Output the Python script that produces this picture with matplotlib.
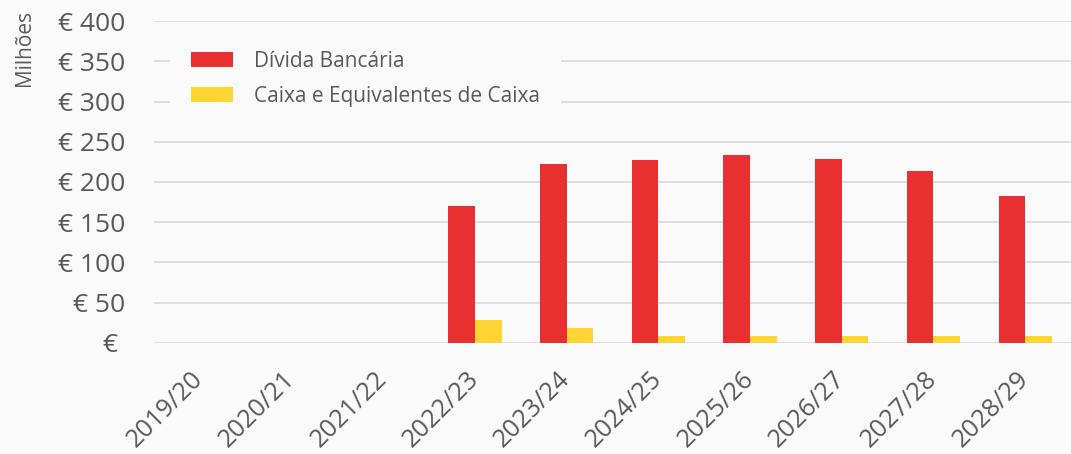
import matplotlib
matplotlib.use("Agg")
import matplotlib.pyplot as plt
import matplotlib.transforms as mtransforms
import numpy as np

categories = ["2019/20", "2020/21", "2021/22", "2022/23", "2023/24",
              "2024/25", "2025/26", "2026/27", "2027/28", "2028/29"]
divida = [0, 0, 0, 170, 222, 227, 234, 229, 214, 182]
caixa = [0, 0, 0, 28, 18, 8, 8, 8, 8, 8]
yticks = [0, 50, 100, 150, 200, 250, 300, 350, 400]
ytick_labels = ["€ ", "€ 50", "€ 100", "€ 150", "€ 200", "€ 250", "€ 300", "€ 350", "€ 400"]

BG = "#fafafa"
RED = "#e83030"
YEL = "#ffd433"
GRID = "#d9d9d9"
TXT = "#595959"

plt.rcParams['font.family'] = ['Open Sans', 'DejaVu Sans']

fig = plt.figure(figsize=(10.71, 4.54), dpi=100, facecolor=BG)
ax = fig.add_axes([0.1438, 0.2452, 0.8562, 0.7079], facecolor=BG)

x = np.arange(len(categories))
w = 0.29
ax.bar(x - w / 2, divida, width=w, color=RED, label="Dívida Bancária", zorder=3)
ax.bar(x + w / 2, caixa, width=w, color=YEL, label="Caixa e Equivalentes de Caixa", zorder=3)

ax.set_xlim(-0.5, len(categories) - 0.5)
ax.set_ylim(0, 400)
ax.set_yticks(yticks)
ax.set_yticklabels(ytick_labels, fontsize=19, color=TXT)
ax.set_xticks(x)
ax.set_xticklabels(categories, fontsize=18.3, color=TXT, rotation=45,
                   ha="right", va="top", rotation_mode="anchor")
ax.tick_params(axis="both", length=0)
ax.tick_params(axis="y", pad=21)
ax.tick_params(axis="x", pad=17)
offset = mtransforms.ScaledTranslation(-9 / 100, 0, fig.dpi_scale_trans)
for lbl in ax.get_xticklabels():
    lbl.set_transform(lbl.get_transform() + offset)
ax.grid(axis="y", color=GRID, linewidth=1.2, zorder=0)
for s in ax.spines.values():
    s.set_visible(False)

fig.text(25 / 1071, 1 - 10 / 454, "Milhões", rotation=90, ha="center", va="top",
         fontsize=15, color=TXT)

leg = ax.legend(loc="upper left", bbox_to_anchor=(170 / 1071, 1 - 30 / 454),
                bbox_transform=fig.transFigure, fontsize=15, frameon=True,
                facecolor=BG, edgecolor="none", framealpha=1, fancybox=False,
                borderpad=1.0, borderaxespad=0, handlelength=2.0, handleheight=0.76,
                handletextpad=1.05, labelspacing=0.68, labelcolor=TXT)
leg.set_zorder(5)

fig.savefig("out.png", dpi=100, facecolor=BG)
